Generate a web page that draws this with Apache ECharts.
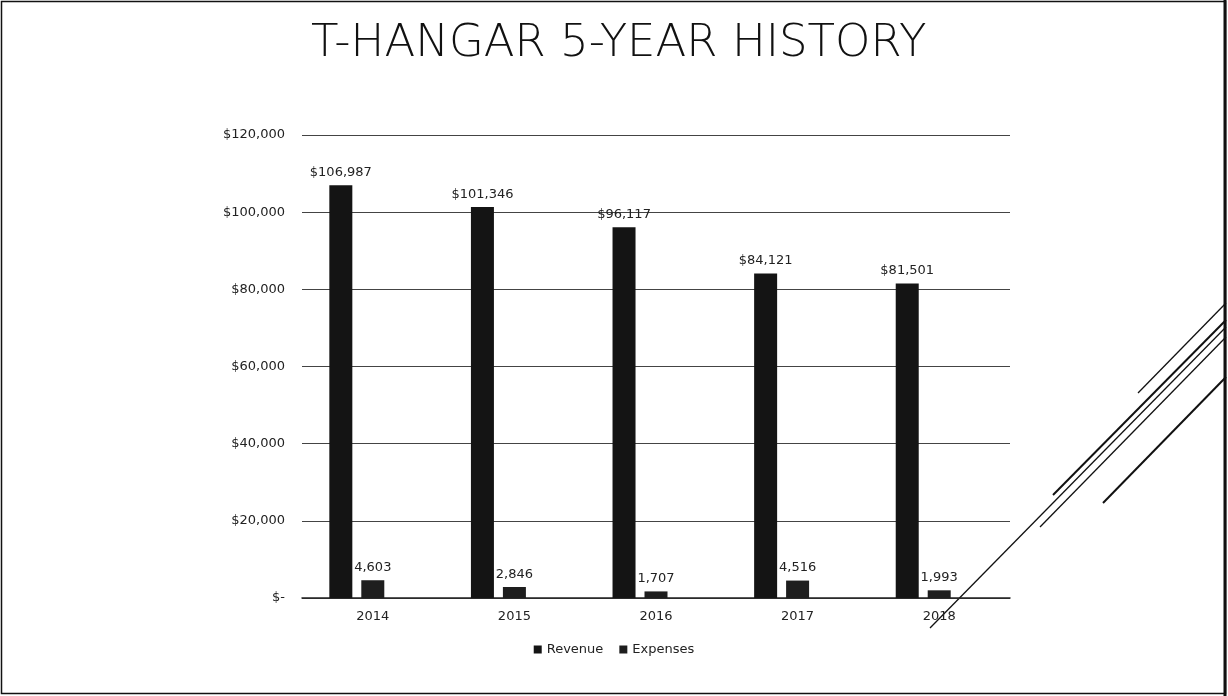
<!DOCTYPE html>
<html>
<head>
<meta charset="utf-8">
<script src="https://cdn.jsdelivr.net/npm/echarts@6/dist/echarts.min.js"></script>
<style>
  html, body { margin: 0; padding: 0; background: #fff; }
  #main { width: 1228px; height: 696px; }
</style>
</head>
<body>
<div id="main"></div>
<script>
var years = ['2014', '2015', '2016', '2017', '2018'];
var revenue = [106987, 101346, 96117, 84121, 81501];
var expenses = [4603, 2846, 1707, 4516, 1993];
// the source chart keeps room for a third, empty series to the right of each pair
var spacer = [null, null, null, null, null];

var yTicks = { min: 0, max: 120000, interval: 20000 };

var font = "'DejaVu Sans', sans-serif";

function money(v) {
    return v === 0 ? '$-' : '$' + v.toLocaleString('en-US');
}

var myChart = echarts.init(document.getElementById('main'));

var option = {
    backgroundColor: '#fff',
    animation: false,
    title: {
        text: 'T-HANGAR 5-YEAR HISTORY',
        left: 306,
        top: 17,
        textStyle: {
            fontFamily: font,
            fontSize: 45,
            fontWeight: 200,
            color: '#111'
        }
    },
    legend: {
        data: ['Revenue', 'Expenses'],
        left: 'center',
        top: 638,
        itemWidth: 8,
        itemHeight: 8,
        itemGap: 16,
        icon: 'rect',
        textStyle: { fontFamily: font, fontSize: 13, color: '#222' }
    },
    grid: {
        left: 302,
        right: 218,
        top: 135,
        bottom: 98
    },
    xAxis: {
        type: 'category',
        data: years,
        axisTick: { show: false },
        axisLine: { lineStyle: { color: '#222', width: 1.5 } },
        axisLabel: { fontFamily: font, fontSize: 13, color: '#222', margin: 12 }
    },
    yAxis: {
        type: 'value',
        min: yTicks.min,
        max: yTicks.max,
        interval: yTicks.interval,
        axisLine: { show: false },
        axisTick: { show: false },
        axisLabel: {
            fontFamily: font,
            fontSize: 13,
            color: '#222',
            margin: 17,
            formatter: money
        },
        splitLine: { lineStyle: { color: '#444', width: 1 } }
    },
    series: [{
        name: 'Revenue',
        type: 'bar',
        data: revenue,
        barWidth: 23,
        barGap: '39%',
        itemStyle: { color: '#141414' },
        label: {
            show: true,
            position: 'top',
            distance: 6,
            fontFamily: font,
            fontSize: 13,
            color: '#222',
            formatter: function (p) { return money(p.value); }
        }
    }, {
        name: 'Expenses',
        type: 'bar',
        data: expenses,
        barWidth: 23,
        barGap: '39%',
        itemStyle: { color: '#1e1e1e' },
        label: {
            show: true,
            position: 'top',
            distance: 6,
            fontFamily: font,
            fontSize: 13,
            color: '#222',
            formatter: function (p) { return p.value.toLocaleString('en-US'); }
        }
    }, {
        name: 'spacer',
        type: 'bar',
        data: spacer,
        barWidth: 23,
        barGap: '39%'
    }],
    graphic: [{
        type: 'rect',
        shape: { x: 1.5, y: 1.5, width: 1224, height: 692 },
        style: { fill: null, stroke: '#111', lineWidth: 1.5 },
        silent: true
    }, {
        type: 'line',
        shape: { x1: 1225, y1: 0, x2: 1225, y2: 696 },
        style: { stroke: '#111', lineWidth: 3 },
        silent: true
    }, {
        type: 'line',
        shape: { x1: 1138, y1: 393, x2: 1226, y2: 303 },
        style: { stroke: '#111', lineWidth: 1.3 },
        silent: true
    }, {
        type: 'line',
        shape: { x1: 1053, y1: 495, x2: 1226, y2: 320 },
        style: { stroke: '#111', lineWidth: 2 },
        silent: true
    }, {
        type: 'line',
        shape: { x1: 930, y1: 628, x2: 1226, y2: 327 },
        style: { stroke: '#111', lineWidth: 1.3 },
        silent: true
    }, {
        type: 'line',
        shape: { x1: 1040, y1: 527, x2: 1226, y2: 337 },
        style: { stroke: '#111', lineWidth: 1.3 },
        silent: true
    }, {
        type: 'line',
        shape: { x1: 1103, y1: 503, x2: 1226, y2: 377 },
        style: { stroke: '#111', lineWidth: 2 },
        silent: true
    }]
};

myChart.setOption(option);
</script>
</body>
</html>
